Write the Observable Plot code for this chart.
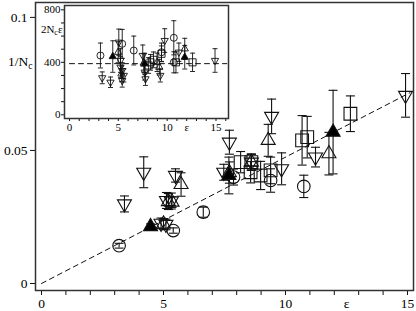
<!DOCTYPE html>
<html><head><meta charset="utf-8">
<script src="https://cdn.jsdelivr.net/npm/d3@7"></script>
<script src="https://cdn.jsdelivr.net/npm/@observablehq/plot@0.6"></script>
<style>
body{margin:0;background:#fff;}
#wrap{position:relative;width:416px;height:311px;overflow:hidden;}
#wrap svg{position:absolute;left:0;top:0;}
#wrap svg text{font-family:'Liberation Serif','Times New Roman',serif;}
</style></head><body><div id="wrap"></div>
<script>
// ---------- main panel data (epsilon, value, error) ----------
const Nc = 12;
const dnEps = [3.40, 4.19, 5.49, 5.12, 5.32, 4.90, 5.10, 7.70, 9.43, 7.47, 8.60, 9.84, 11.23, 14.92];
const dnVal = [0.0299, 0.0418, 0.0406, 0.0312, 0.0310, 0.0226, 0.0222, 0.0531, 0.0628, 0.0418, 0.0456, 0.0431, 0.0475, 0.0707];
const dnErr = [0.003, 0.0058, 0.0025, 0.003, 0.003, 0.002, 0.002, 0.0045, 0.0065, 0.003, 0.003, 0.006, 0.0037, 0.0082];
const upEps = [5.72, 5.20, 5.35, 5.00, 9.29, 7.70, 8.60, 11.78];
const upVal = [0.0372, 0.0308, 0.0306, 0.0224, 0.0538, 0.0417, 0.0456, 0.0488];
const upErr = [0.0044, 0.003, 0.002, 0.002, 0.006, 0.004, 0.003, 0.008];
const fillEps = [4.47, 7.68, 11.95];
const fillVal = [0.0214, 0.0406, 0.0569];
const fillErr = [0.001, 0.0069, 0.0157];
const circEps = [3.18, 5.40, 6.63, 7.87, 9.39, 10.75];
const circVal = [0.0142, 0.0199, 0.0268, 0.0400, 0.0387, 0.0365];
const circErr = [0.0009, 0.001, 0.0019, 0.003, 0.0044, 0.0042];
const sqEps = [8.16, 8.60, 8.57, 8.98, 9.39, 10.68, 10.89, 12.66];
const sqVal = [0.0456, 0.0456, 0.0418, 0.0406, 0.0425, 0.0538, 0.0550, 0.0638];
const sqErr = [0.004, 0.003, 0.004, 0.0053, 0.005, 0.0093, 0.0078, 0.0067];
const fitEps = [0, 15.1];
const fitVal = [0, 0.0717];
const mainXTicks = [0, 5, 10, 12.5, 15];
const mainXLabels = ["0", "5", "10", "ε", "15"];
const mainYTicks = [0, 0.05, 0.1];
const mainYLabels = ["0", "0.05", "0.1"];

// ---------- inset data (epsilon, 2Nc·eps value, error) ----------
const iDnEps = [3.35, 4.20, 5.05, 5.22, 5.22, 5.40, 5.56, 5.40, 7.50, 7.70, 7.78, 9.30, 9.75, 11.20, 14.90];
const iDnVal = [282, 248, 553, 414, 363, 337, 300, 261, 452, 325, 274, 300, 566, 477, 414];
const iDnErr = [45, 40, 100, 90, 80, 60, 50, 50, 80, 60, 50, 50, 90, 70, 90];
const iUpEps = [4.98, 5.32, 7.60, 8.97, 9.20, 11.80];
const iUpVal = [477, 312, 395, 400, 363, 503];
const iUpErr = [80, 60, 70, 70, 60, 80];
const iFillEps = [4.43, 7.70, 11.80];
const iFillVal = [444, 389, 439];
const iFillErr = [120, 80, 90];
const iCircEps = [3.17, 5.40, 6.58, 9.42, 10.68, 10.68];
const iCircVal = [452, 541, 490, 477, 587, 400];
const iCircErr = [95, 110, 110, 70, 130, 80];
const iSqEps = [8.10, 8.30, 8.60, 9.42, 10.90, 12.60];
const iSqVal = [376, 400, 419, 465, 400, 400];
const iSqErr = [60, 60, 60, 60, 80, 70];
const iFitEps = [0, 16.1];
const iFitVal = [390, 390];
const insetXTicks = [0, 5, 10, 12, 15];
const insetXLabels = ["0", "5", "10", "ε", "15"];
const insetYTicks = [0, 400, 800];
const insetYLabels = ["0", "400", "800"];

// ---------- helpers ----------
const rows = (eps, val, err) => eps.map((e, i) => ({e, v: val[i], err: err[i]}));
const cap = w => ({draw(ctx) { ctx.moveTo(-w, 0); ctx.lineTo(w, 0); }});
const triDown = {draw(ctx, size) {
  const y = Math.sqrt(size / (Math.sqrt(3) * 3)), x = Math.sqrt(3) * y;
  ctx.moveTo(0, 2 * y); ctx.lineTo(-x, -y); ctx.lineTo(x, -y); ctx.closePath();
}};
const INK = "#111";
function errMarks(data, capW, sw) {
  return [
    Plot.ruleX(data, {x: "e", y1: d => d.v - d.err, y2: d => d.v + d.err, stroke: INK, strokeWidth: sw}),
    Plot.dot(data, {x: "e", y: d => d.v + d.err, symbol: cap(capW), stroke: INK, strokeWidth: sw}),
    Plot.dot(data, {x: "e", y: d => d.v - d.err, symbol: cap(capW), stroke: INK, strokeWidth: sw})
  ];
}
function symMarks(set, s, sw) {
  const m = [];
  const all = [...set.dn, ...set.up, ...set.fill, ...set.circ, ...set.sq];
  m.push(...errMarks(all, s.cap, sw));
  m.push(Plot.dot(set.circ, {x: "e", y: "v", r: s.circ, stroke: INK, strokeWidth: sw, fill: "none"}));
  m.push(Plot.dot(set.sq, {x: "e", y: "v", r: s.sq, symbol: "square", stroke: INK, strokeWidth: sw, fill: "none"}));
  m.push(Plot.dot(set.up, {x: "e", y: "v", r: s.tri, symbol: "triangle", stroke: INK, strokeWidth: sw, fill: "none"}));
  m.push(Plot.dot(set.dn, {x: "e", y: "v", r: s.tri, symbol: triDown, stroke: INK, strokeWidth: sw, fill: "none"}));
  m.push(Plot.dot(set.fill, {x: "e", y: "v", r: s.tri, symbol: "triangle", stroke: INK, strokeWidth: sw, fill: "#000"}));
  return m;
}
const FONT = "'Liberation Serif', 'Times New Roman', serif";

// ---------- main plot ----------
const mainSet = {
  dn: rows(dnEps, dnVal, dnErr), up: rows(upEps, upVal, upErr),
  fill: rows(fillEps, fillVal, fillErr), circ: rows(circEps, circVal, circErr), sq: rows(sqEps, sqVal, sqErr)
};
const main = Plot.plot({
  width: 416, height: 311,
  marginLeft: 35, marginRight: 3, marginTop: 2, marginBottom: 21,
  style: {fontFamily: FONT, fontSize: "13.5px", background: "white", color: "#000"},
  x: {domain: [-0.246, 15.246], label: null},
  y: {domain: [-0.00263, 0.1056], label: null},
  marks: [
    Plot.line(fitEps.map((e, i) => ({e, v: fitVal[i]})), {x: "e", y: "v", stroke: INK, strokeWidth: 1, strokeDasharray: "5,4"}),
    ...symMarks(mainSet, {cap: 4.5, circ: 6.3, sq: 7.2, tri: 5.2}, 1.1),
    Plot.axisX({ticks: d3.range(0, 16), tickSize: 5, tickFormat: () => "", stroke: INK, label: null}),
    Plot.axisX({ticks: mainXTicks, tickSize: 0, tickPadding: 8, tickFormat: d => mainXLabels[mainXTicks.indexOf(d)], fill: "#000", fontFamily: FONT, label: null}),
    Plot.axisY({ticks: mainYTicks, tickSize: 5, tickPadding: 3, tickFormat: d => mainYLabels[mainYTicks.indexOf(d)], stroke: INK, fill: "#000", fontFamily: FONT, label: null}),
    Plot.axisY({ticks: [1 / Nc], tickSize: 0, tickPadding: 3, tickFormat: () => "1/Nc", fill: "#000", fontFamily: FONT, label: null}),
    Plot.frame({stroke: "#333", strokeWidth: 1.5})
  ]
});

// ---------- inset plot ----------
const insetSet = {
  dn: rows(iDnEps, iDnVal, iDnErr), up: rows(iUpEps, iUpVal, iUpErr),
  fill: rows(iFillEps, iFillVal, iFillErr), circ: rows(iCircEps, iCircVal, iCircErr), sq: rows(iSqEps, iSqVal, iSqErr)
};
const inset = Plot.plot({
  width: 416, height: 311,
  marginLeft: 64, marginRight: 188, marginTop: 5, marginBottom: 193,
  style: {fontFamily: FONT, fontSize: "11px", background: "transparent", color: "#000"},
  x: {domain: [-0.51, 16.28], label: null},
  y: {domain: [-28, 833], label: null},
  marks: [
    Plot.frame({fill: "white", stroke: "none"}),
    Plot.line(iFitEps.map((e, i) => ({e, v: iFitVal[i]})), {x: "e", y: "v", stroke: INK, strokeWidth: 1, strokeDasharray: "5,4"}),
    ...symMarks(insetSet, {cap: 2.5, circ: 3.5, sq: 4, tri: 2.7}, 0.9),
    Plot.axisX({ticks: d3.range(0, 17), tickSize: 3, tickFormat: () => "", stroke: INK, label: null}),
    Plot.axisX({ticks: insetXTicks, tickSize: 0, tickPadding: 5, tickFormat: d => insetXLabels[insetXTicks.indexOf(d)], fill: "#000", fontFamily: FONT, label: null}),
    Plot.axisY({ticks: d3.range(0, 801, 100), tickSize: 3, tickFormat: () => "", stroke: INK, label: null}),
    Plot.axisY({ticks: insetYTicks, tickSize: 0, tickPadding: 4, tickFormat: d => insetYLabels[insetYTicks.indexOf(d)], fill: "#000", fontFamily: FONT, label: null}),
    Plot.axisY({ticks: [650], tickSize: 0, tickPadding: 2, tickFormat: () => "2Ncε", fill: "#000", fontFamily: FONT, label: null}),
    Plot.frame({stroke: "#333", strokeWidth: 1.5})
  ]
});

// subscript the "c" in N_c
function subscriptNc(svg) {
  const ns = "http://www.w3.org/2000/svg";
  svg.querySelectorAll("text").forEach(t => {
    const s = t.textContent;
    if (s === "1/Nc" || s === "2Ncε") {
      const i = s.indexOf("Nc") + 1;
      t.textContent = "";
      const a = document.createElementNS(ns, "tspan"); a.textContent = s.slice(0, i);
      const b = document.createElementNS(ns, "tspan"); b.textContent = "c";
      b.setAttribute("dy", "0.3em"); b.setAttribute("font-size", "0.72em");
      t.appendChild(a); t.appendChild(b);
      const rest = s.slice(i + 1);
      if (rest) {
        const c = document.createElementNS(ns, "tspan"); c.textContent = rest;
        c.setAttribute("dy", "-0.22em");
        t.appendChild(c);
      }
    }
  });
}
subscriptNc(main); subscriptNc(inset);
const wrap = document.getElementById("wrap");
wrap.appendChild(main);
wrap.appendChild(inset);
</script>
</body></html>
